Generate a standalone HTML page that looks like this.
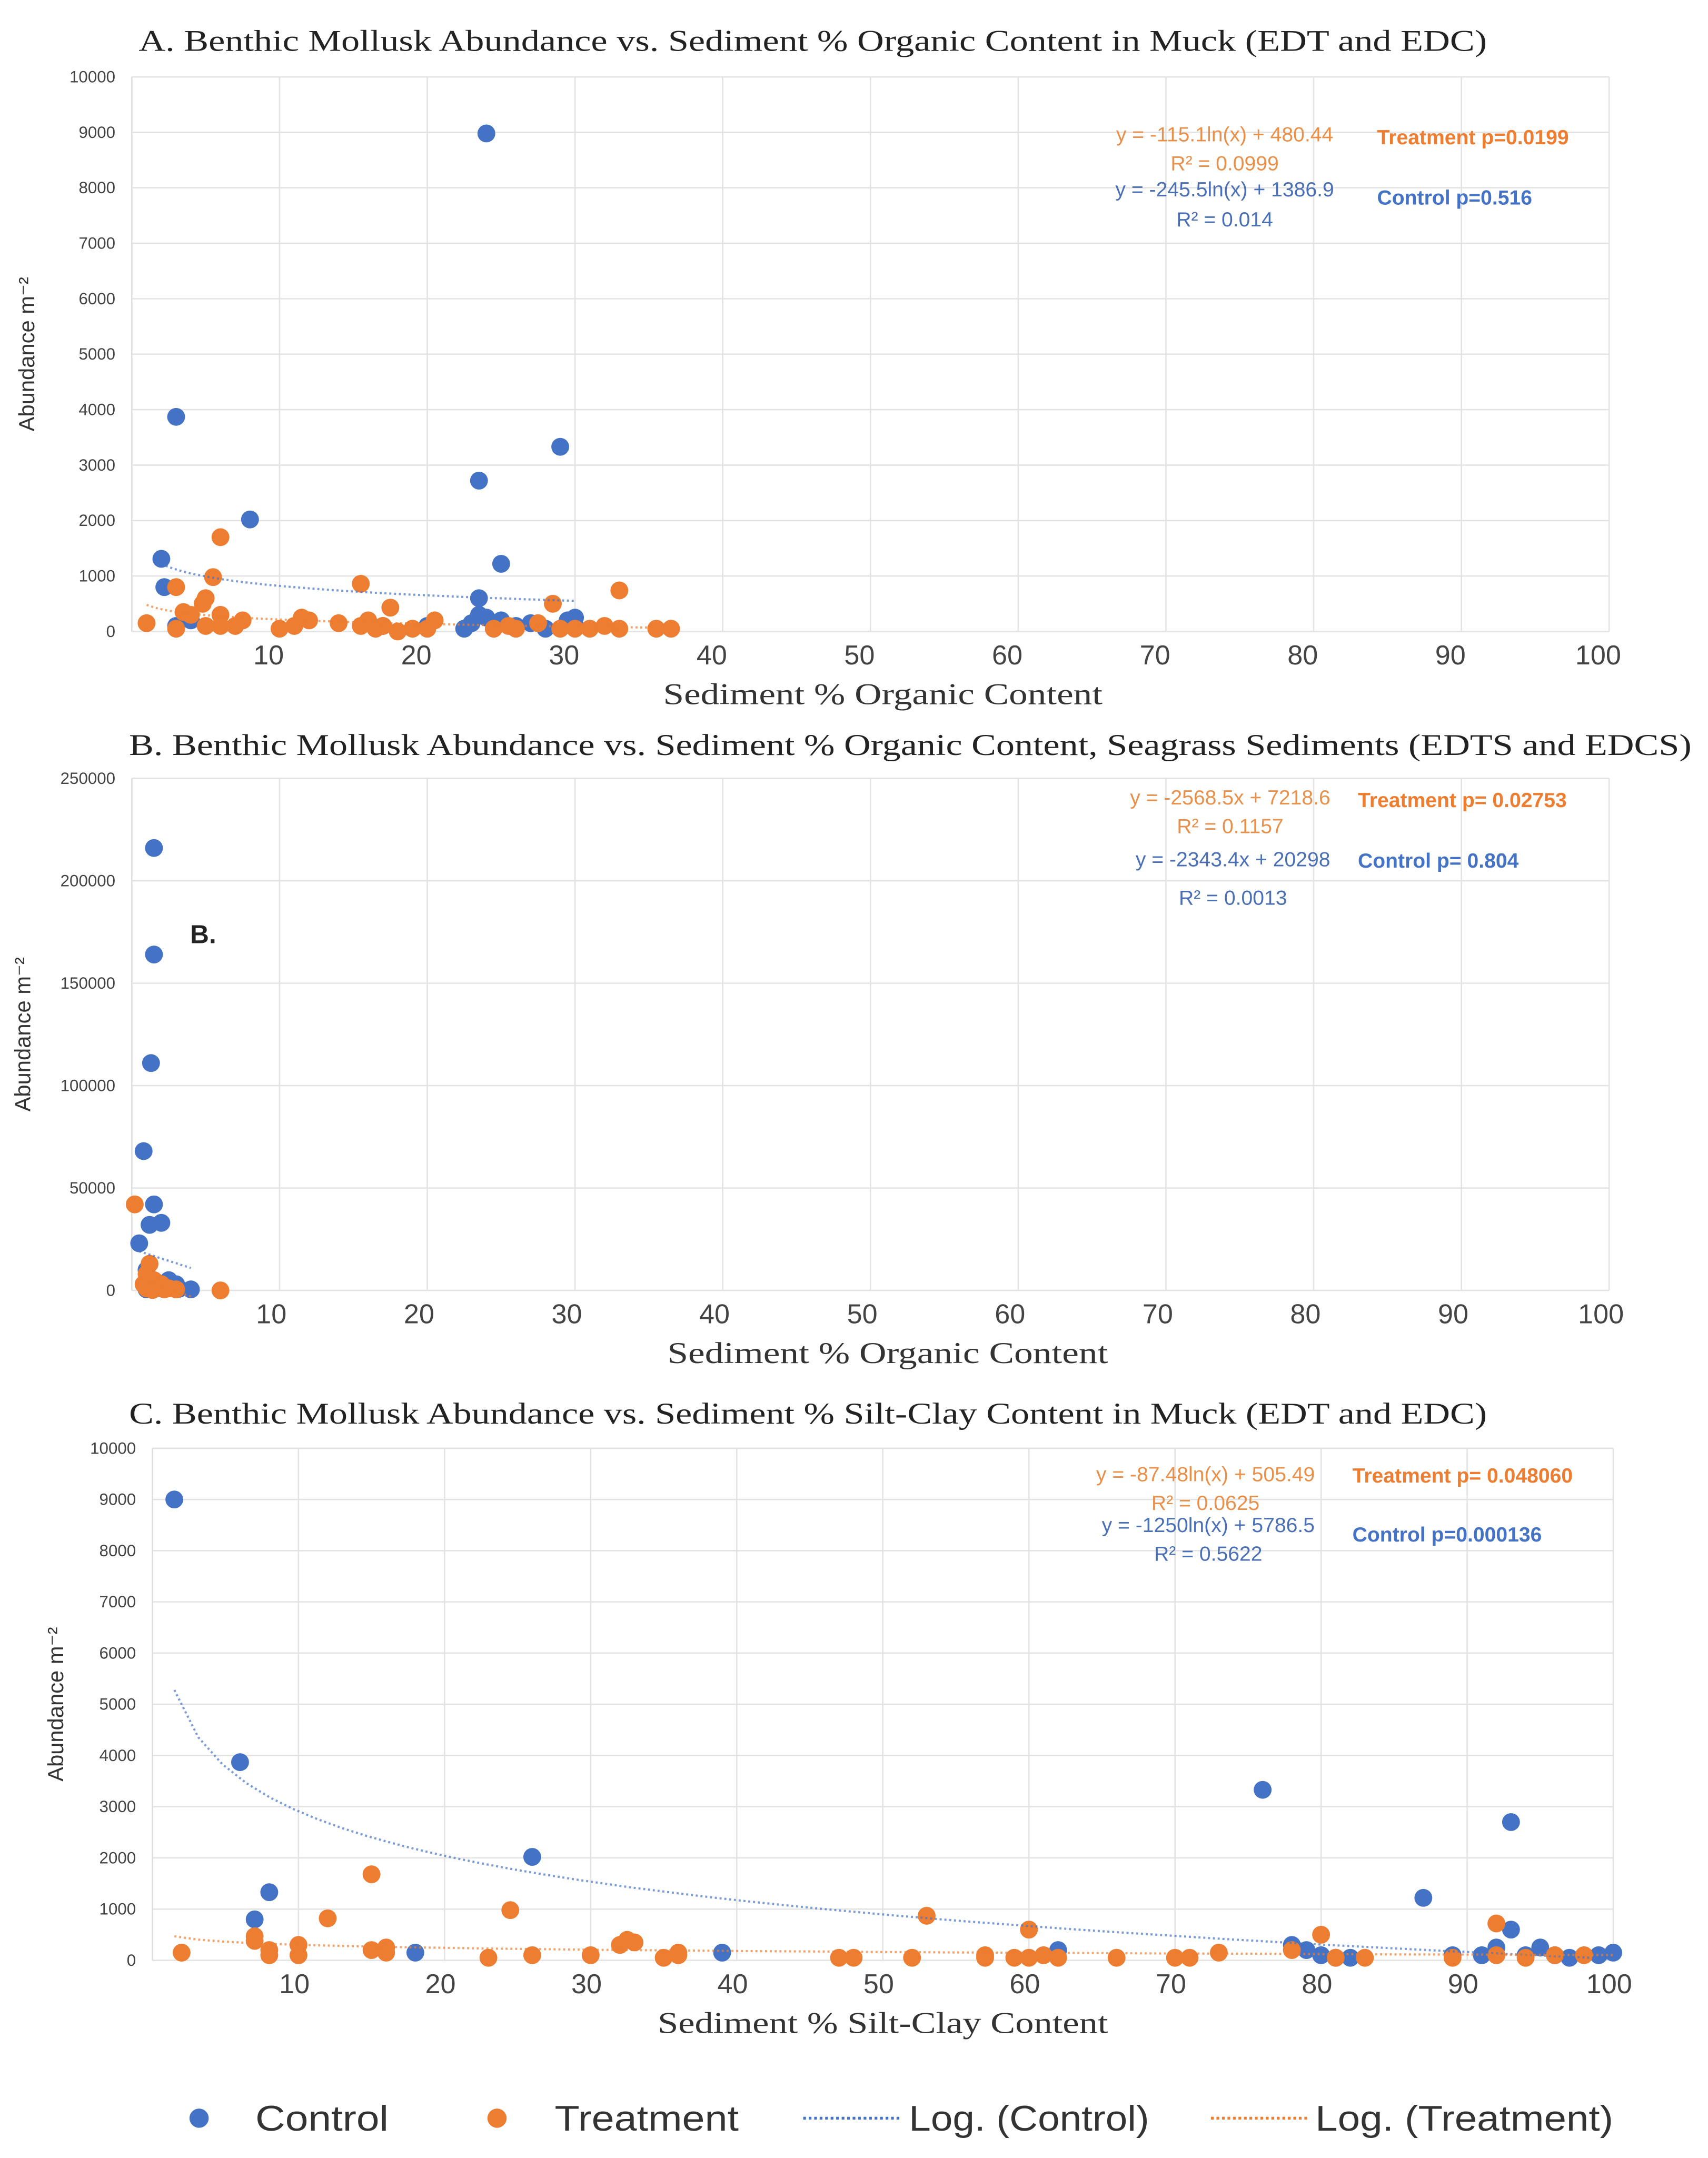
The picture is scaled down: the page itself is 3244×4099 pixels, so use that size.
<!DOCTYPE html>
<html><head><meta charset="utf-8">
<style>
html,body{margin:0;padding:0;background:#fff;}
svg{display:block;}
text{font-family:"Liberation Sans",sans-serif;}
.ttl{font-family:"Liberation Serif",serif;font-size:22px;fill:#222;}
.xt{font-size:20px;fill:#444;}
.yt{font-size:12px;fill:#444;}
.ax{font-family:"Liberation Serif",serif;font-size:22px;fill:#333;}
</style></head>
<body>
<svg id="chart" width="3244" height="4099" viewBox="0 0 1244 1572" preserveAspectRatio="none" xmlns="http://www.w3.org/2000/svg">
<rect width="1244" height="1572" fill="#fff"/>
<g id="root"></g>
</svg>
<script>
// ---- Panel A data ----
const aCtrlX=[24,3,29,23.5,8,2,25,2.2,23.5,22.5,23,23.5,24,25,26,27,28,29.5,30,30,3,4,20,17];
const aCtrlY=[8980,3870,3330,2720,2020,1310,1220,800,600,50,150,300,250,200,100,150,50,200,250,100,100,200,100,100];
const aTrtX=[1,3,6,5.5,15.5,33,28.5,17.5,5,4.8,3.5,4,3,5,6,6,7,7.5,10,11,11.5,12,14,15.5,16,16.5,17,18,19,20,20.5,24.5,25.5,26,27.5,29,30,31,32,33,35.5,36.5];
const aTrtY=[150,800,1700,980,860,740,500,430,600,500,350,300,50,100,300,100,100,200,50,100,250,200,150,100,200,50,100,0,50,50,200,50,100,50,150,50,50,50,100,50,50,50];
const aCtrlFit=[-245.5,1386.9,2,30];
const aTrtFit=[-115.1,480.44,1,37];
const aYTicks=[0,1000,2000,3000,4000,5000,6000,7000,8000,9000,10000];
const xTicks=[10,20,30,40,50,60,70,80,90,100];
// ---- Panel B data ----
const bCtrlX=[1.5,1.5,1.3,0.8,1.5,0.5,1.2,2,4,1,2.5,3,1.5,2,1,0.8,2.2,3.2];
const bCtrlY=[216000,164000,111000,68000,42000,23000,32000,33000,500,10000,5000,3000,2000,1000,500,3000,1500,800];
const bTrtX=[0.2,1.2,1,1.5,2,2.5,3,6,1,0.8,1.8,2.2,1.4];
const bTrtY=[42000,13000,8000,5000,3000,1000,500,0,1000,3000,2000,500,200];
const bCtrlFit=[-2343.4,20298,0.5,4];
const bTrtFit=[-2568.5,7218.6,0.5,4];
const bYTicks=[0,50000,100000,150000,200000,250000];
// ---- Panel C data ----
const cCtrlX=[1.5,6,76,93,26,8,7,87,18,39,62,78,79,80,81,82,89,91,92,93,94,95,96,97,99,100];
const cCtrlY=[9000,3870,3330,2700,2020,1330,800,1220,150,150,200,300,200,100,50,50,100,100,250,600,100,250,100,50,100,150];
const cTrtX=[15,24.5,53,12,92,60,80,7,7,2,8,8,10,10,15,16,16,23,26,30,32,32.5,33,35,36,36,47,48,52,57,57,59,60,61,62,66,70,71,73,78,81,83,89,92,94,96,98];
const cTrtY=[1680,980,870,820,720,600,500,470,380,150,100,200,300,100,200,250,150,50,100,100,300,400,350,50,100,150,50,50,50,100,50,50,50,100,50,50,50,50,150,200,50,50,50,100,50,100,100];
const cCtrlFit=[-1250,5786.5,1.5,100];
const cTrtFit=[-87.48,505.49,1.5,100];
const cYTicks=[0,1000,2000,3000,4000,5000,6000,7000,8000,9000,10000];

const NS="http://www.w3.org/2000/svg";
const root=document.getElementById('root');
const BLUE="#4472c4",ORANGE="#ed7d31";
function mk(tag,attrs,parent,txt){const e=document.createElementNS(NS,tag);for(const k in attrs)e.setAttribute(k,attrs[k]);if(txt!==undefined)e.textContent=txt;(parent||root).appendChild(e);return e;}

function panel(p){
  const g=mk('g',{});
  
  
  const sx=v=>p.x0+(v/100)*(p.x1-p.x0);
  const sy=v=>p.y0-(v/p.ymax)*(p.y0-p.y1);
  p.yTicks.forEach(t=>{
    const l=mk('line',{x1:p.x0,x2:p.x1,y1:sy(t),y2:sy(t),stroke:'#e3e3e3','stroke-width':1},g);
    
    
    const tx=mk('text',{x:p.x0-12,y:sy(t)+4,'text-anchor':'end',class:'yt'},g,String(t));
    
    
  });
  xTicks.forEach(t=>{
    const l=mk('line',{x1:sx(t),x2:sx(t),y1:p.y1,y2:p.y0,stroke:'#e3e3e3','stroke-width':1},g);
    
    
    const tx=mk('text',{x:sx(t)+p.xoff,y:p.y0+24,'text-anchor':'middle',class:'xt'},g,String(t));
    
    
  });
  const la=mk('line',{x1:p.x0,x2:p.x0,y1:p.y1,y2:p.y0,stroke:'#ddd'},g);
  
  
  function fit(f,col,nm,lin){
    let d='';
    for(let i=0;i<=60;i++){const x=f[2]+(f[3]-f[2])*i/60;const y=lin?f[0]*x+f[1]:f[0]*Math.log(x)+f[1];d+=(i?'L':'M')+sx(x).toFixed(1)+','+sy(y).toFixed(1);}
    const pa=mk('path',{d:d,fill:'none',stroke:col,'stroke-width':1.6,'stroke-dasharray':'1.5,2','opacity':0.7},g);
    
    
  }
  function pts(xs,ys,col,nm){
    xs.forEach((x,i)=>{
      const c=mk('circle',{cx:sx(x),cy:sy(ys[i]),r:6.5,fill:col},g);
      
      
    });
  }
  pts(p.cx,p.cy,BLUE,'control-point');
  pts(p.tx,p.ty,ORANGE,'treatment-point');
  fit(p.cf,BLUE,'control-trendline',p.lin);
  fit(p.tf,ORANGE,'treatment-trendline',p.lin);
  const t=mk('text',{x:p.tl[0],y:p.ty0,textLength:p.tl[1]-p.tl[0],lengthAdjust:'spacingAndGlyphs',class:'ttl'},g,p.title);
  
  
  const xa=mk('text',{x:p.xl[0],y:p.y0+53,textLength:p.xl[1]-p.xl[0],lengthAdjust:'spacingAndGlyphs',class:'ax'},g,p.xtitle);
  
  
  const ya=mk('text',{x:0,y:0,'text-anchor':'middle',transform:`translate(${p.yax},${(p.y0+p.y1)/2}) rotate(-90)`,style:'font-size:16px;fill:#333'},g,p.ytitle);
  
  
  p.eq.forEach(e=>{
    const et=mk('text',{x:e[0],y:e[1],'text-anchor':e[4]||'start',style:`font-size:${e[5]||15}px;fill:${e[3]};font-weight:${e[6]||'normal'}`},g,e[2]);
    
    
  });
}

const OR2="#e8904a",BL2="#4a6fb5";
panel({name:'panel-a',x0:96,x1:1172,y0:460,y1:56,ymax:10000,yTicks:aYTicks,cx:aCtrlX,cy:aCtrlY,tx:aTrtX,ty:aTrtY,cf:aCtrlFit,tf:aTrtFit,lin:false,xoff:-8,
  title:'A. Benthic Mollusk Abundance vs. Sediment % Organic Content in Muck (EDT  and EDC)',tl:[101,1083],ty0:37,xtitle:'Sediment % Organic Content',xl:[483,803],ytitle:'Abundance m⁻²',yax:25,
  eq:[[892,103,'y = -115.1ln(x) + 480.44',OR2,'middle'],[892,124,'R² = 0.0999',OR2,'middle'],[892,143,'y = -245.5ln(x) + 1386.9',BL2,'middle'],[892,165,'R² = 0.014',BL2,'middle'],
      [1003,105,'Treatment p=0.0199',ORANGE,'start',15,'bold'],[1003,149,'Control p=0.516',BLUE,'start',15,'bold']]});
panel({name:'panel-b',x0:96,x1:1172,y0:940,y1:567,ymax:250000,yTicks:bYTicks,cx:bCtrlX,cy:bCtrlY,tx:bTrtX,ty:bTrtY,cf:bCtrlFit,tf:bTrtFit,lin:true,xoff:-6,
  title:'B. Benthic Mollusk Abundance vs. Sediment % Organic Content, Seagrass Sediments (EDTS  and EDCS)',tl:[94,1232],ty0:550,xtitle:'Sediment % Organic Content',xl:[486,807],ytitle:'Abundance m⁻²',yax:22,
  eq:[[896,586,'y = -2568.5x + 7218.6',OR2,'middle'],[896,607,'R² = 0.1157',OR2,'middle'],[898,631,'y = -2343.4x + 20298',BL2,'middle'],[898,659,'R² = 0.0013',BL2,'middle'],
      [989,588,'Treatment p= 0.02753',ORANGE,'start',15,'bold'],[989,632,'Control p= 0.804',BLUE,'start',15,'bold'],
      [148,687,'B.','#222','middle',19,'bold']]});
panel({name:'panel-c',x0:111,x1:1175,y0:1428,y1:1055,ymax:10000,yTicks:cYTicks,cx:cCtrlX,cy:cCtrlY,tx:cTrtX,ty:cTrtY,cf:cCtrlFit,tf:cTrtFit,lin:false,xoff:-3,
  title:'C. Benthic Mollusk Abundance vs. Sediment % Silt-Clay Content in Muck (EDT  and EDC)',tl:[94,1083],ty0:1037,xtitle:'Sediment % Silt-Clay Content',xl:[479,807],ytitle:'Abundance m⁻²',yax:46,
  eq:[[878,1079,'y = -87.48ln(x) + 505.49',OR2,'middle'],[878,1100,'R² = 0.0625',OR2,'middle'],[880,1116,'y = -1250ln(x) + 5786.5',BL2,'middle'],[880,1137,'R² = 0.5622',BL2,'middle'],
      [985,1080,'Treatment p= 0.048060',ORANGE,'start',15,'bold'],[985,1123,'Control p=0.000136',BLUE,'start',15,'bold']]});

const lg=mk('g',{});


function lentry(x,kind,col,label,tx0,tx1){
  const e=mk('g',{},lg);
  
  
  if(kind==='dot'){mk('circle',{cx:x,cy:1543,r:7,fill:col},e);}
  else{mk('line',{x1:x,x2:x+70,y1:1543,y2:1543,stroke:col,'stroke-width':2,'stroke-dasharray':'2,2'},e);}
  mk('text',{x:tx0,y:1552,textLength:tx1-tx0,lengthAdjust:'spacingAndGlyphs',style:'font-size:26px;fill:#333'},e,label);
}
lentry(145,'dot',BLUE,'Control',186,283);
lentry(362,'dot',ORANGE,'Treatment',404,538);
lentry(585,'line',BLUE,'Log. (Control)',662,837);
lentry(882,'line',ORANGE,'Log. (Treatment)',958,1175);
</script>
</body></html>
